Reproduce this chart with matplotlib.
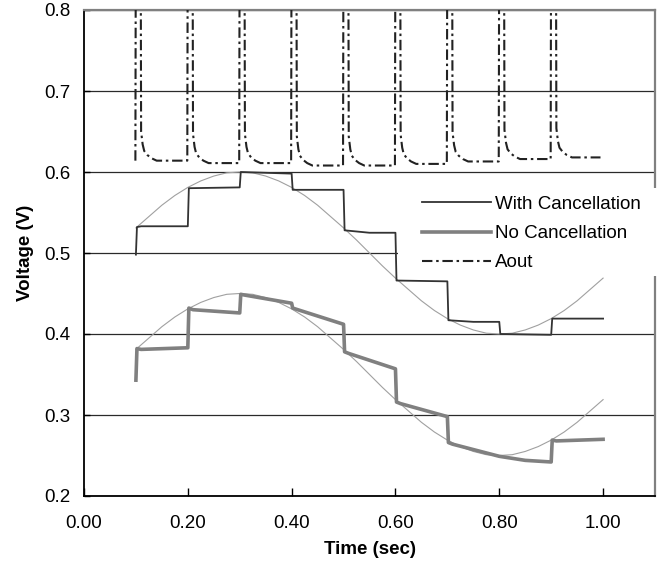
import matplotlib
matplotlib.use("Agg")
import matplotlib.pyplot as plt
from matplotlib.patches import Rectangle

plt.rcParams["font.family"] = ["Liberation Sans", "DejaVu Sans"]
plt.rcParams["font.size"] = 13.5

# ── reference sine curves (read every 0.025 s) ───────────────────────────────
ref_t = [0.100, 0.125, 0.150, 0.175, 0.200, 0.225, 0.250, 0.275, 0.300, 0.325,
         0.350, 0.375, 0.400, 0.425, 0.450, 0.475, 0.500, 0.525, 0.550, 0.575,
         0.600, 0.625, 0.650, 0.675, 0.700, 0.725, 0.750, 0.775, 0.800, 0.825,
         0.850, 0.875, 0.900, 0.925, 0.950, 0.975, 1.000]
ref_with = [0.531, 0.545, 0.559, 0.571, 0.581, 0.589, 0.595, 0.599, 0.600, 0.599,
            0.595, 0.589, 0.581, 0.571, 0.559, 0.545, 0.531, 0.516, 0.500, 0.484,
            0.469, 0.455, 0.441, 0.429, 0.419, 0.411, 0.405, 0.401, 0.400, 0.401,
            0.405, 0.411, 0.419, 0.429, 0.441, 0.455, 0.469]
ref_no = [0.381, 0.395, 0.409, 0.421, 0.431, 0.439, 0.445, 0.449, 0.450, 0.449,
          0.445, 0.439, 0.431, 0.421, 0.409, 0.395, 0.381, 0.366, 0.350, 0.334,
          0.319, 0.305, 0.291, 0.279, 0.269, 0.261, 0.255, 0.251, 0.250, 0.251,
          0.255, 0.261, 0.269, 0.279, 0.291, 0.305, 0.319]

# ── sampled output, with cancellation ────────────────────────────────────────
with_t = [0.100, 0.102, 0.110, 0.200, 0.202, 0.300, 0.302, 0.400, 0.402, 0.500,
          0.502, 0.550, 0.600, 0.602, 0.700, 0.702, 0.750, 0.800, 0.802, 0.900,
          0.902, 1.000]
with_v = [0.498, 0.532, 0.533, 0.533, 0.580, 0.581, 0.600, 0.598, 0.578, 0.578,
          0.528, 0.525, 0.525, 0.466, 0.465, 0.417, 0.415, 0.415, 0.400, 0.399,
          0.419, 0.419]

# ── sampled output, no cancellation ──────────────────────────────────────────
no_t = [0.100, 0.102, 0.110, 0.200, 0.202, 0.210, 0.300, 0.302, 0.310, 0.400,
        0.402, 0.500, 0.502, 0.510, 0.600, 0.602, 0.610, 0.700, 0.702, 0.710,
        0.800, 0.850, 0.900, 0.902, 0.910, 1.000]
no_v = [0.343, 0.382, 0.381, 0.383, 0.432, 0.430, 0.426, 0.449, 0.448, 0.438,
        0.432, 0.412, 0.378, 0.376, 0.357, 0.316, 0.314, 0.298, 0.266, 0.264,
        0.249, 0.244, 0.242, 0.269, 0.268, 0.270]

# ── Aout: pulse times, settled level after each pulse, decay shape ───────────
aout_pulse_t = [0.10, 0.20, 0.30, 0.40, 0.50, 0.60, 0.70, 0.80, 0.90]
aout_settle = [0.614, 0.611, 0.611, 0.608, 0.608, 0.610, 0.613, 0.616, 0.618]
aout_peak = 0.95
aout_shape_dt = [0.009, 0.010, 0.013, 0.016, 0.022, 0.030, 0.040]
aout_shape_dv = [None, 0.036, 0.020, 0.012, 0.007, 0.003, 0.000]
aout_end_t = 0.995

aout_t, aout_v = [], []
prev = aout_settle[0]
for t0, lvl in zip(aout_pulse_t, aout_settle):
    aout_t += [t0 - 0.001, t0]
    aout_v += [prev, aout_peak]
    for dt, dv in zip(aout_shape_dt, aout_shape_dv):
        aout_t.append(t0 + dt)
        aout_v.append(aout_peak if dv is None else lvl + dv)
    prev = lvl
aout_t.append(aout_end_t)
aout_v.append(aout_settle[-1])

x_ticks = [0.0, 0.2, 0.4, 0.6, 0.8, 1.0]
y_ticks = [0.2, 0.3, 0.4, 0.5, 0.6, 0.7, 0.8]

fig = plt.figure(figsize=(6.6, 5.67), dpi=100)
ax = fig.add_axes([84 / 660, 71 / 567, 571 / 660, 486 / 567])

ax.plot(ref_t, ref_with, color="#a0a0a0", linewidth=0.8, zorder=2)
ax.plot(ref_t, ref_no, color="#a0a0a0", linewidth=0.8, zorder=2)
ax.plot(with_t, with_v, color="#333333", linewidth=1.3, label="With Cancellation", zorder=3)
ax.plot(no_t, no_v, color="#808080", linewidth=2.6, label="No Cancellation", zorder=3)
ax.plot(aout_t, aout_v, color="#222222", linewidth=1.5, dashes=(5, 1.8, 1.2, 1.8),
        label="Aout", zorder=3)

ax.set_xlim(0, 1.1)
ax.set_ylim(0.2, 0.8)
ax.set_xticks(x_ticks)
ax.set_xticklabels([f"{v:.2f}" for v in x_ticks])
ax.set_yticks(y_ticks)
ax.set_yticklabels([f"{v:.1f}" for v in y_ticks])
ax.tick_params(axis="x", direction="in", length=6, width=1, pad=14, colors="black")
ax.tick_params(axis="y", direction="in", length=4, width=1, pad=10, colors="black")
ax.yaxis.grid(True, color="#2a2a2a", linewidth=0.9)
ax.set_axisbelow(True)

for side in ("left", "bottom"):
    ax.spines[side].set_color("black")
    ax.spines[side].set_linewidth(1.3)
for side in ("top", "right"):
    ax.spines[side].set_color("#808080")
    ax.spines[side].set_linewidth(1.6)

ax.set_xlabel("Time (sec)", fontweight="bold", labelpad=6)
ax.set_ylabel("Voltage (V)", fontweight="bold", labelpad=7)

# white box behind the legend (hides grid and border like the original)
ax.add_patch(Rectangle((0.55, 0.452), 0.47, 0.182, transform=ax.transAxes,
                       facecolor="white", edgecolor="none", clip_on=False, zorder=4))
ax.legend(loc="upper left", bbox_to_anchor=(0.592, 0.618), frameon=False,
          borderpad=0, borderaxespad=0, handlelength=3.7, handletextpad=0.2,
          labelspacing=0.65, fontsize=13.5).set_zorder(5)

fig.savefig("out.png", dpi=100)
